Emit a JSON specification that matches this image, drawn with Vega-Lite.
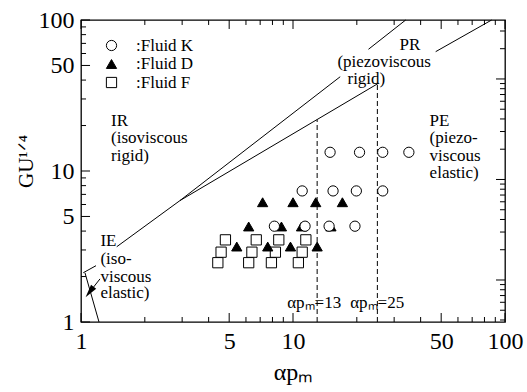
{
  "$schema": "https://vega.github.io/schema/vega-lite/v6.json",
  "width": 424,
  "height": 302,
  "autosize": {"type": "none"},
  "padding": {"left": 81, "top": 20, "right": 22, "bottom": 70},
  "background": "white",
  "datasets": {
    "xticks": [
      {"id": "b1", "v": 1, "p0": 1, "p1": 1.147}, {"id": "b5", "v": 5, "p0": 1, "p1": 1.147}, {"id": "b10", "v": 10, "p0": 1, "p1": 1.147}, {"id": "b50", "v": 50, "p0": 1, "p1": 1.147}, {"id": "b100", "v": 100, "p0": 1, "p1": 1.147},
      {"id": "b2", "v": 2, "p0": 1, "p1": 1.079}, {"id": "b3", "v": 3, "p0": 1, "p1": 1.079}, {"id": "b4", "v": 4, "p0": 1, "p1": 1.079}, {"id": "b6", "v": 6, "p0": 1, "p1": 1.079}, {"id": "b7", "v": 7, "p0": 1, "p1": 1.079}, {"id": "b8", "v": 8, "p0": 1, "p1": 1.079}, {"id": "b9", "v": 9, "p0": 1, "p1": 1.079},
      {"id": "b20", "v": 20, "p0": 1, "p1": 1.079}, {"id": "b30", "v": 30, "p0": 1, "p1": 1.079}, {"id": "b40", "v": 40, "p0": 1, "p1": 1.079}, {"id": "b60", "v": 60, "p0": 1, "p1": 1.079}, {"id": "b70", "v": 70, "p0": 1, "p1": 1.079}, {"id": "b80", "v": 80, "p0": 1, "p1": 1.079}, {"id": "b90", "v": 90, "p0": 1, "p1": 1.079},
      {"id": "t1", "v": 1, "p0": 100, "p1": 87.2}, {"id": "t5", "v": 5, "p0": 100, "p1": 87.2}, {"id": "t10", "v": 10, "p0": 100, "p1": 87.2}, {"id": "t50", "v": 50, "p0": 100, "p1": 87.2}, {"id": "t100", "v": 100, "p0": 100, "p1": 87.2},
      {"id": "t2", "v": 2, "p0": 100, "p1": 92.7}, {"id": "t3", "v": 3, "p0": 100, "p1": 92.7}, {"id": "t4", "v": 4, "p0": 100, "p1": 92.7}, {"id": "t6", "v": 6, "p0": 100, "p1": 92.7}, {"id": "t7", "v": 7, "p0": 100, "p1": 92.7}, {"id": "t8", "v": 8, "p0": 100, "p1": 92.7}, {"id": "t9", "v": 9, "p0": 100, "p1": 92.7},
      {"id": "t20", "v": 20, "p0": 100, "p1": 92.7}, {"id": "t30", "v": 30, "p0": 100, "p1": 92.7}, {"id": "t40", "v": 40, "p0": 100, "p1": 92.7}, {"id": "t60", "v": 60, "p0": 100, "p1": 92.7}, {"id": "t70", "v": 70, "p0": 100, "p1": 92.7}, {"id": "t80", "v": 80, "p0": 100, "p1": 92.7}, {"id": "t90", "v": 90, "p0": 100, "p1": 92.7}
    ],
    "yticks": [
      {"id": "l1", "v": 1, "p0": 1, "p1": 1.103}, {"id": "l5", "v": 5, "p0": 1, "p1": 1.103}, {"id": "l10", "v": 10, "p0": 1, "p1": 1.103}, {"id": "l50", "v": 50, "p0": 1, "p1": 1.103}, {"id": "l100", "v": 100, "p0": 1, "p1": 1.103},
      {"id": "l2", "v": 2, "p0": 1, "p1": 1.056}, {"id": "l3", "v": 3, "p0": 1, "p1": 1.056}, {"id": "l4", "v": 4, "p0": 1, "p1": 1.056}, {"id": "l6", "v": 6, "p0": 1, "p1": 1.056}, {"id": "l7", "v": 7, "p0": 1, "p1": 1.056}, {"id": "l8", "v": 8, "p0": 1, "p1": 1.056}, {"id": "l9", "v": 9, "p0": 1, "p1": 1.056},
      {"id": "l20", "v": 20, "p0": 1, "p1": 1.056}, {"id": "l30", "v": 30, "p0": 1, "p1": 1.056}, {"id": "l40", "v": 40, "p0": 1, "p1": 1.056}, {"id": "l60", "v": 60, "p0": 1, "p1": 1.056}, {"id": "l70", "v": 70, "p0": 1, "p1": 1.056}, {"id": "l80", "v": 80, "p0": 1, "p1": 1.056}, {"id": "l90", "v": 90, "p0": 1, "p1": 1.056}
    ],
    "rticks": [
      {"id": "r1", "v": 1, "p0": 100, "p1": 90.7}, {"id": "r10", "v": 10, "p0": 100, "p1": 90.7}, {"id": "r100", "v": 100, "p0": 100, "p1": 90.7},
      {"id": "r0.4", "v": 0.4, "p0": 100, "p1": 94.7}, {"id": "r0.5", "v": 0.5, "p0": 100, "p1": 94.7}, {"id": "r0.6", "v": 0.6, "p0": 100, "p1": 94.7}, {"id": "r0.7", "v": 0.7, "p0": 100, "p1": 94.7}, {"id": "r0.8", "v": 0.8, "p0": 100, "p1": 94.7}, {"id": "r0.9", "v": 0.9, "p0": 100, "p1": 94.7},
      {"id": "r2", "v": 2, "p0": 100, "p1": 94.7}, {"id": "r3", "v": 3, "p0": 100, "p1": 94.7}, {"id": "r4", "v": 4, "p0": 100, "p1": 94.7}, {"id": "r5", "v": 5, "p0": 100, "p1": 94.7}, {"id": "r6", "v": 6, "p0": 100, "p1": 94.7}, {"id": "r7", "v": 7, "p0": 100, "p1": 94.7}, {"id": "r8", "v": 8, "p0": 100, "p1": 94.7}, {"id": "r9", "v": 9, "p0": 100, "p1": 94.7},
      {"id": "r20", "v": 20, "p0": 100, "p1": 94.7}, {"id": "r30", "v": 30, "p0": 100, "p1": 94.7}, {"id": "r40", "v": 40, "p0": 100, "p1": 94.7}, {"id": "r50", "v": 50, "p0": 100, "p1": 94.7}, {"id": "r60", "v": 60, "p0": 100, "p1": 94.7}, {"id": "r70", "v": 70, "p0": 100, "p1": 94.7}, {"id": "r80", "v": 80, "p0": 100, "p1": 94.7}, {"id": "r90", "v": 90, "p0": 100, "p1": 94.7},
      {"id": "r200", "v": 200, "p0": 100, "p1": 94.7}, {"id": "r300", "v": 300, "p0": 100, "p1": 94.7}
    ],
    "lines": [
      {"seg": "a", "k": 1, "x": 1.025, "y": 2.12},
      {"seg": "a", "k": 2, "x": 1.177, "y": 2.36},
      {"seg": "b", "k": 1, "x": 1.474, "y": 3.15},
      {"seg": "b", "k": 2, "x": 2.93, "y": 6.37},
      {"seg": "b", "k": 3, "x": 16.7, "y": 42.1},
      {"seg": "c", "k": 1, "x": 22.7, "y": 64.0},
      {"seg": "c", "k": 2, "x": 34.0, "y": 100},
      {"seg": "d", "k": 1, "x": 2.93, "y": 6.37},
      {"seg": "d", "k": 2, "x": 25.3, "y": 38.1},
      {"seg": "e", "k": 1, "x": 47.1, "y": 61.7},
      {"seg": "e", "k": 2, "x": 86.5, "y": 100},
      {"seg": "f", "k": 1, "x": 1.044, "y": 2.12},
      {"seg": "f", "k": 2, "x": 1.216, "y": 1},
      {"seg": "g", "k": 1, "x": 1.229, "y": 1.93},
      {"seg": "g", "k": 2, "x": 1.103, "y": 1.59}
    ],
    "dashed": [
      {"seg": "h", "k": 1, "x": 13, "y": 1},
      {"seg": "h", "k": 2, "x": 13, "y": 21.9},
      {"seg": "i", "k": 1, "x": 25, "y": 1},
      {"seg": "i", "k": 2, "x": 25, "y": 37.8}
    ],
    "arrow": [
      {"x": 1.098, "y": 1.58}
    ],
    "labels": [
      {"x": 1.386, "y": 21.3, "text": "IR"},
      {"x": 1.386, "y": 16.5, "text": "(isoviscous"},
      {"x": 1.386, "y": 12.65, "text": "rigid)"},
      {"x": 31.8, "y": 68.4, "text": "PR"},
      {"x": 16.2, "y": 52.8, "text": "(piezoviscous"},
      {"x": 18.07, "y": 40.6, "text": "rigid)"},
      {"x": 44.1, "y": 21.5, "text": "PE"},
      {"x": 44.1, "y": 16.5, "text": "(piezo-"},
      {"x": 44.1, "y": 12.65, "text": "viscous"},
      {"x": 44.1, "y": 9.66, "text": "elastic)"},
      {"x": 1.235, "y": 3.43, "text": "IE"},
      {"x": 1.235, "y": 2.63, "text": "(iso-"},
      {"x": 1.235, "y": 2.0, "text": "viscous"},
      {"x": 1.235, "y": 1.556, "text": "elastic)"},
      {"x": 9.39, "y": 1.345, "text": "αpₘ=13"},
      {"x": 18.6, "y": 1.345, "text": "αpₘ=25"}
    ],
    "points": [
      {"fluid": "Fluid F", "x": 4.80, "y": 3.50},
      {"fluid": "Fluid F", "x": 6.71, "y": 3.50},
      {"fluid": "Fluid F", "x": 8.57, "y": 3.50},
      {"fluid": "Fluid F", "x": 11.5, "y": 3.50},
      {"fluid": "Fluid F", "x": 4.58, "y": 2.90},
      {"fluid": "Fluid F", "x": 6.40, "y": 2.90},
      {"fluid": "Fluid F", "x": 8.26, "y": 2.90},
      {"fluid": "Fluid F", "x": 11.05, "y": 2.90},
      {"fluid": "Fluid F", "x": 4.42, "y": 2.47},
      {"fluid": "Fluid F", "x": 6.18, "y": 2.47},
      {"fluid": "Fluid F", "x": 7.91, "y": 2.47},
      {"fluid": "Fluid F", "x": 10.6, "y": 2.47},
      {"fluid": "Fluid D", "x": 7.19, "y": 6.21},
      {"fluid": "Fluid D", "x": 10.0, "y": 6.21},
      {"fluid": "Fluid D", "x": 12.8, "y": 6.21},
      {"fluid": "Fluid D", "x": 17.1, "y": 6.21},
      {"fluid": "Fluid D", "x": 6.18, "y": 4.29},
      {"fluid": "Fluid D", "x": 8.82, "y": 4.29},
      {"fluid": "Fluid D", "x": 10.97, "y": 4.29},
      {"fluid": "Fluid D", "x": 15.1, "y": 4.29},
      {"fluid": "Fluid D", "x": 5.43, "y": 3.16},
      {"fluid": "Fluid D", "x": 7.60, "y": 3.16},
      {"fluid": "Fluid D", "x": 9.73, "y": 3.16},
      {"fluid": "Fluid D", "x": 13.0, "y": 3.16},
      {"fluid": "Fluid K", "x": 14.96, "y": 13.3},
      {"fluid": "Fluid K", "x": 20.6, "y": 13.3},
      {"fluid": "Fluid K", "x": 26.5, "y": 13.3},
      {"fluid": "Fluid K", "x": 35.2, "y": 13.3},
      {"fluid": "Fluid K", "x": 11.05, "y": 7.38},
      {"fluid": "Fluid K", "x": 15.45, "y": 7.38},
      {"fluid": "Fluid K", "x": 19.9, "y": 7.38},
      {"fluid": "Fluid K", "x": 26.5, "y": 7.38},
      {"fluid": "Fluid K", "x": 8.17, "y": 4.31},
      {"fluid": "Fluid K", "x": 11.4, "y": 4.31},
      {"fluid": "Fluid K", "x": 14.8, "y": 4.31},
      {"fluid": "Fluid K", "x": 19.6, "y": 4.31}
    ]
  },
  "layer": [
    {
      "data": {"name": "xticks"},
      "transform": [{"fold": ["p0", "p1"], "as": ["end", "pos"]}],
      "mark": {"type": "line", "stroke": "black", "strokeWidth": 1},
      "encoding": {
        "x": {"field": "v", "type": "quantitative", "scale": {"type": "log", "domain": [1, 100], "nice": false}, "axis": null},
        "y": {"field": "pos", "type": "quantitative", "scale": {"type": "log", "domain": [1, 100], "nice": false}, "axis": null},
        "detail": {"field": "id"},
        "order": {"field": "end", "type": "ordinal"}
      }
    },
    {
      "data": {"name": "yticks"},
      "transform": [{"fold": ["p0", "p1"], "as": ["end", "pos"]}],
      "mark": {"type": "line", "stroke": "black", "strokeWidth": 1},
      "encoding": {
        "x": {"field": "pos", "type": "quantitative", "scale": {"type": "log", "domain": [1, 100], "nice": false}, "axis": null},
        "y": {"field": "v", "type": "quantitative", "scale": {"type": "log", "domain": [1, 100], "nice": false}, "axis": null},
        "detail": {"field": "id"},
        "order": {"field": "end", "type": "ordinal"}
      }
    },
    {
      "data": {"name": "rticks"},
      "transform": [{"fold": ["p0", "p1"], "as": ["end", "pos"]}],
      "mark": {"type": "line", "stroke": "black", "strokeWidth": 1},
      "encoding": {
        "x": {"field": "pos", "type": "quantitative", "scale": {"type": "log", "domain": [1, 100], "nice": false}, "axis": null},
        "y": {"field": "v", "type": "quantitative", "scale": {"type": "log", "domain": [0.382, 386], "nice": false}, "axis": null},
        "detail": {"field": "id"},
        "order": {"field": "end", "type": "ordinal"}
      }
    },
    {
      "data": {"name": "lines"},
      "mark": {"type": "line", "stroke": "black", "strokeWidth": 1},
      "encoding": {
        "x": {"field": "x", "type": "quantitative", "scale": {"type": "log", "domain": [1, 100], "nice": false}, "axis": null},
        "y": {"field": "y", "type": "quantitative", "scale": {"type": "log", "domain": [1, 100], "nice": false}, "axis": null},
        "detail": {"field": "seg"},
        "order": {"field": "k", "type": "quantitative"}
      }
    },
    {
      "data": {"name": "dashed"},
      "mark": {"type": "line", "stroke": "black", "strokeWidth": 1, "strokeDash": [5, 3]},
      "encoding": {
        "x": {"field": "x", "type": "quantitative", "scale": {"type": "log", "domain": [1, 100], "nice": false}, "axis": null},
        "y": {"field": "y", "type": "quantitative", "scale": {"type": "log", "domain": [1, 100], "nice": false}, "axis": null},
        "detail": {"field": "seg"},
        "order": {"field": "k", "type": "quantitative"}
      }
    },
    {
      "data": {"name": "arrow"},
      "mark": {"type": "point", "shape": "M0,-1L0.5,1L-0.5,1Z", "size": 170, "angle": 218, "filled": true, "fill": "black", "opacity": 1, "strokeWidth": 0},
      "encoding": {
        "x": {"field": "x", "type": "quantitative", "scale": {"type": "log", "domain": [1, 100], "nice": false}, "axis": null},
        "y": {"field": "y", "type": "quantitative", "scale": {"type": "log", "domain": [1, 100], "nice": false}, "axis": null}
      }
    },
    {
      "data": {"name": "labels"},
      "mark": {"type": "text", "align": "left", "baseline": "middle", "font": "Liberation Serif", "fontSize": 17, "fill": "black"},
      "encoding": {
        "x": {"field": "x", "type": "quantitative", "scale": {"type": "log", "domain": [1, 100], "nice": false}, "axis": null},
        "y": {"field": "y", "type": "quantitative", "scale": {"type": "log", "domain": [1, 100], "nice": false}, "axis": null},
        "text": {"field": "text"}
      }
    },
    {
      "data": {"name": "points"},
      "mark": {"type": "point", "filled": true, "stroke": "black", "strokeWidth": 1, "opacity": 1, "size": 105},
      "encoding": {
        "x": {"field": "x", "type": "quantitative",
          "scale": {"type": "log", "domain": [1, 100], "nice": false},
          "axis": {"orient": "bottom", "title": "αpₘ", "values": [1, 5, 10, 50, 100], "ticks": false, "offset": -9,
            "labelExpr": "datum.value + ''",
            "labelPadding": 35, "labelBaseline": "alphabetic",
            "titleBaseline": "alphabetic", "titleY": 66, "titleFontSize": 24}},
        "y": {"field": "y", "type": "quantitative",
          "scale": {"type": "log", "domain": [1, 100], "nice": false},
          "axis": {"orient": "left", "title": "GU¹ᐟ⁴", "values": [1, 5, 10, 50, 100], "ticks": false, "offset": -9,
            "labelExpr": "datum.value + ''",
            "labelPadding": 16, "labelBaseline": "middle",
            "titleAngle": -90, "titleBaseline": "alphabetic", "titleAlign": "center", "titleX": -58, "titleY": 141, "titleFontSize": 21}},
        "shape": {"field": "fluid", "type": "nominal",
          "scale": {"domain": ["Fluid K", "Fluid D", "Fluid F"], "range": ["circle", "triangle-up", "square"]},
          "legend": {"orient": "none", "legendX": 22, "legendY": 17, "title": null, "labelExpr": "':' + datum.label", "padding": 0, "symbolOffset": 0, "labelOffset": 16, "rowPadding": 0.5}},
        "color": {"field": "fluid", "type": "nominal",
          "scale": {"domain": ["Fluid K", "Fluid D", "Fluid F"], "range": ["white", "black", "white"]},
          "legend": {"orient": "none", "legendX": 22, "legendY": 17, "title": null, "labelExpr": "':' + datum.label", "padding": 0, "symbolOffset": 0, "labelOffset": 16, "rowPadding": 0.5}}
      }
    }
  ],
  "resolve": {"scale": {"y": "independent"}, "axis": {"x": "independent", "y": "independent"}},
  "config": {
    "view": {"stroke": "black", "strokeWidth": 1.3},
    "axis": {
      "domain": false, "grid": false,
      "labelFont": "Liberation Serif", "labelFontSize": 24, "labelColor": "black",
      "labelOverlap": false, "labelFlush": false,
      "titleFont": "Liberation Serif", "titleFontWeight": "normal", "titleColor": "black"
    },
    "legend": {
      "labelFont": "Liberation Serif", "labelFontSize": 17, "labelColor": "black",
      "symbolSize": 105, "symbolStrokeColor": "black", "symbolStrokeWidth": 1
    }
  }
}
